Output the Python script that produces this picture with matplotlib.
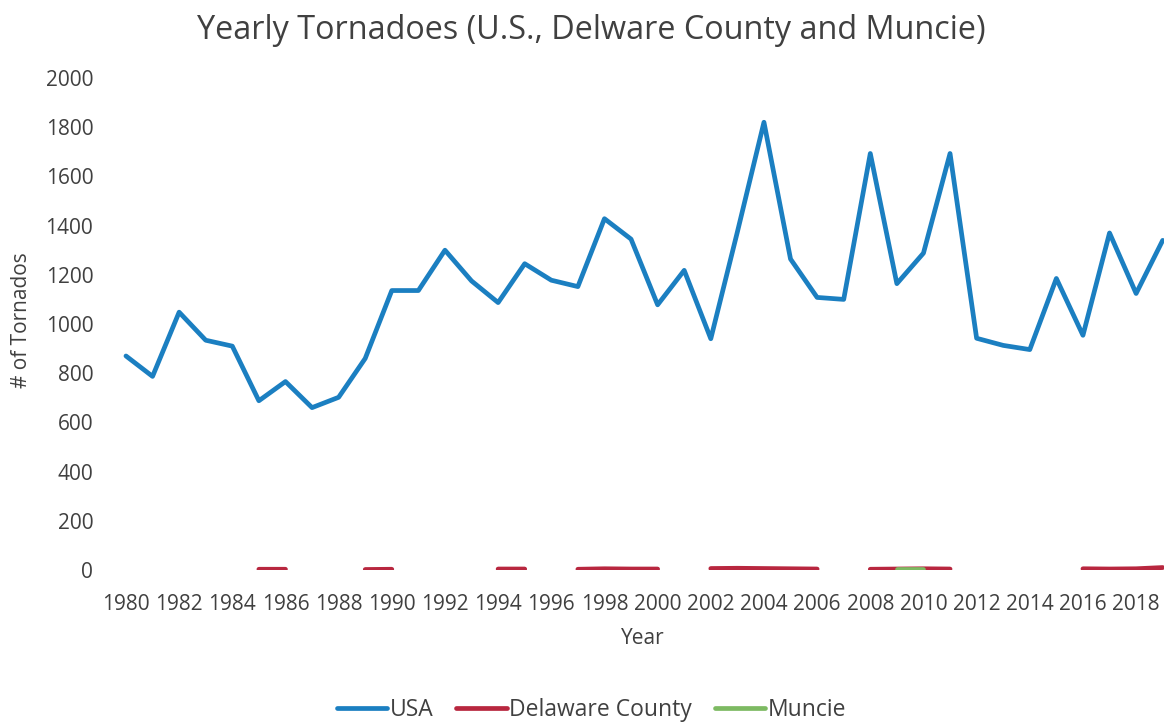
import matplotlib.pyplot as plt
import numpy as np

plt.rcParams['font.family'] = ['Open Sans', 'DejaVu Sans']

years = np.arange(1980, 2020)

usa = [870, 787, 1048, 934, 910, 688, 766, 660, 702, 860,
       1136, 1136, 1300, 1175, 1087, 1245, 1178, 1152, 1428, 1345,
       1078, 1218, 940, 1374, 1820, 1264, 1108, 1100, 1693, 1164,
       1288, 1693, 942, 913, 896, 1185, 954, 1370, 1124, 1340]

# county and city counts only for years with recorded tornadoes; gaps elsewhere
delaware = {1985: 3, 1986: 3, 1989: 2, 1990: 3, 1994: 4, 1995: 4,
            1997: 3, 1998: 5, 1999: 4, 2000: 4,
            2002: 6, 2003: 7, 2004: 6, 2005: 5, 2006: 4,
            2008: 3, 2009: 4, 2010: 5, 2011: 4,
            2016: 5, 2017: 4, 2018: 5, 2019: 10}
muncie = {2009: 3, 2010: 3}

yticks = np.arange(0, 2001, 200)
xticks = np.arange(1980, 2019, 2)

def series(d):
    return np.array([d.get(y, np.nan) for y in years], dtype=float)

fig = plt.figure(figsize=(11.64, 7.24), dpi=100)
ax = fig.add_axes([0.0968, 0.2127, 0.9135, 0.6796])

text_col = '#404040'
lw = 3.4
ax.plot(years, usa, color='#1b7fc1', lw=lw, solid_capstyle='round',
        solid_joinstyle='round', label='USA')
ax.plot(years, series(delaware), color='#b8273f', lw=lw,
        solid_capstyle='round', label='Delaware County')
ax.plot(years, series(muncie), color='#7dba62', lw=lw,
        solid_capstyle='round', label='Muncie')

ax.set_xlim(1979.5, 2019.5)
ax.set_ylim(0, 2000)
ax.set_yticks(yticks)
ax.set_xticks(xticks)
ax.tick_params(length=0, labelsize=15, colors=text_col)
ax.tick_params(axis='y', pad=14)
ax.tick_params(axis='x', pad=17)
for s in ax.spines.values():
    s.set_visible(False)

ax.set_xlabel('Year', fontsize=15, color=text_col)
ax.xaxis.set_label_coords(0.499, -0.118)
ax.set_ylabel('# of Tornados', fontsize=15, color=text_col)
ax.yaxis.set_label_coords(-0.076, 0.508)
fig.text(0.508, 0.958, 'Yearly Tornadoes (U.S., Delware County and Muncie)',
         ha='center', va='center', fontsize=23.3, color=text_col)

fig.legend(loc='center', bbox_to_anchor=(0.508, 0.019), ncol=3, frameon=False,
           fontsize=16.5, handlelength=2.2, handletextpad=0.1,
           columnspacing=1.0, labelcolor=text_col)

fig.savefig('out.png', dpi=100, facecolor='white')
